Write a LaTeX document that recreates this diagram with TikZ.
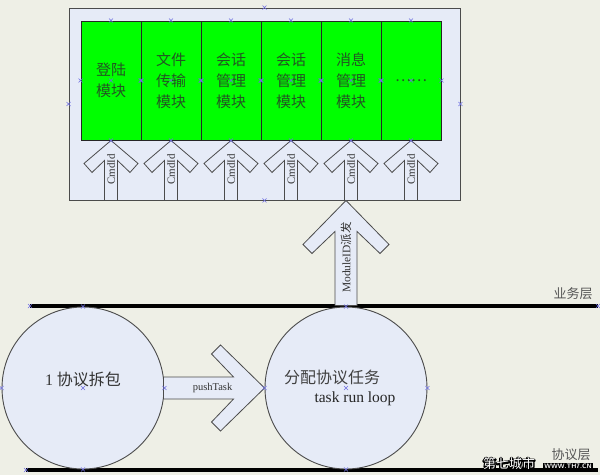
\documentclass[tikz,border=0pt]{standalone}
\usepackage{fontspec}
\setmainfont{Liberation Serif}
\newfontfamily\cjk{Noto Sans CJK SC}
\definecolor{bg}{RGB}{238,239,230}
\definecolor{pane}{RGB}{230,235,247}
\definecolor{modgreen}{RGB}{0,255,0}
\definecolor{modtext}{RGB}{35,85,35}
\definecolor{edgegray}{RGB}{75,75,75}
\definecolor{cpblue}{RGB}{110,110,225}
\definecolor{labgray}{RGB}{85,85,85}
\newcommand{\outlinedtext}[1]{\rlap{\special{pdf:literal direct q 1 Tr 2.6 w 0 G 1 j}#1\special{pdf:literal direct Q}}#1}
\begin{document}
\begin{tikzpicture}[x=1pt,y=-1pt,
  panelbox/.style={draw=edgegray,line width=0.9pt,fill=pane,inner sep=0pt},
  modbox/.style={draw=black!85,line width=0.9pt,fill=modgreen,inner sep=0pt,
    minimum width=60pt,minimum height=119pt,align=center,text=modtext,
    font=\cjk\fontsize{15}{21}\selectfont},
  blockarrow/.style={draw=edgegray,line width=0.8pt,fill=pane,line join=miter},
  bubble/.style={circle,draw=edgegray,line width=0.9pt,fill=pane,minimum size=162pt,inner sep=0pt},
  layerbar/.style={line width=4pt,black},
  layerlabel/.style={text=labgray,font=\cjk\fontsize{13}{15}\selectfont,inner sep=0pt},
  cpx/.style={cpblue,line width=0.6pt}]
\useasboundingbox (0,0) rectangle (600,475);
\fill[bg] (0,0) rectangle (600,475);

% upper panel
\node[panelbox,minimum width=391pt,minimum height=192pt] (panel) at (264.5,104) {};
\foreach \i/\t in {1/{登陆\\模块},2/{文件\\传输\\模块},3/{会话\\管理\\模块},4/{会话\\管理\\模块},5/{消息\\管理\\模块},6/{……}}
  \node[modbox] (m\i) at ({51+60*\i},80.5) {\t};

% CmdId arrows
\foreach \i in {1,...,6}{
  \begin{scope}[shift={(m\i.south)}]
    \draw[blockarrow] (0,0) -- (-27,23) -- (-19,32) -- (-6.5,20) -- (-6.5,60)
      -- (6.5,60) -- (6.5,20) -- (19,32) -- (27,23) -- cycle;
    \node[rotate=90,font=\fontsize{11}{12}\selectfont,text=black!80,inner sep=0pt] (cmd\i) at (0,29) {CmdId};
  \end{scope}
}

% layer bars
\coordinate (bizL) at (30,306);
\coordinate (bizR) at (598,306);
\coordinate (protL) at (26,470);
\coordinate (protR) at (598,470);
\draw[layerbar] (bizL) -- (bizR);
\draw[layerbar] (protL) -- (protR);
\node[layerlabel] (biz) at (573,294) {业务层};
\node[layerlabel] (prot) at (571,455) {协议层};

% circles
\node[bubble] (c1) at (83,388) {};
\node[bubble] (c2) at (346,388) {};
\node[font=\fontsize{16}{18}\selectfont,text=black!80,inner sep=0pt] (t1) at (83,379) {1 {\cjk 协议拆包}};
\node[font=\cjk\fontsize{16}{18}\selectfont,text=black!75,inner sep=0pt] (t2) at (332,377) {分配协议任务};
\node[font=\fontsize{15.5}{18}\selectfont,text=black!85,inner sep=0pt] (t3) at (355,399) {task run loop};

% ModuleID arrow
\begin{scope}[shift={(c2.north |- panel.south)}]
  \draw[blockarrow] (0,0) -- (-43,44) -- (-34,53) -- (-11,31) -- (-11,105)
    -- (11,105) -- (11,31) -- (34,53) -- (43,44) -- cycle;
  \node[rotate=90,font=\fontsize{11.5}{13}\selectfont,text=black!80,inner sep=0pt] (mid) at (0,57) {ModuleID{\cjk 派发}};
\end{scope}

% pushTask arrow
\begin{scope}[shift={(c2.west)}]
  \draw[blockarrow] (0,0) -- (-44,-43) -- (-53,-34) -- (-31,-11) -- (-101,-11)
    -- (-101,11) -- (-31,11) -- (-53,34) -- (-44,43) -- cycle;
  \node[font=\fontsize{10.5}{12}\selectfont,text=black!80,inner sep=0pt] (push) at (-52,0) {pushTask};
\end{scope}

% connection point marks
\foreach \p in {panel.north,panel.south,panel.west,panel.east,
  c1.north,c1.south,c1.west,c1.east,c1.center,
  c2.north,c2.south,c2.west,c2.east,c2.center,bizL,bizR,protL}
  \draw[cpx] (\p) +(-2,-2) -- +(2,2) +(-2,2) -- +(2,-2);
\foreach \i in {1,...,6}
  \foreach \a in {north,south,west,east,center}
    \draw[cpx] (m\i.\a) +(-2,-2) -- +(2,2) +(-2,2) -- +(2,-2);

% watermark
\node[font=\cjk\fontsize{13}{14}\selectfont,text=white,inner sep=0pt] (wm1) at (509,464) {\outlinedtext{第七城市}};
\node[fill=black,text=white,font=\sffamily\bfseries\fontsize{6.5}{7}\selectfont,inner sep=1pt] (wm2) at (568,466.5) {WWW.TH7.CN};
\end{tikzpicture}
\end{document}
